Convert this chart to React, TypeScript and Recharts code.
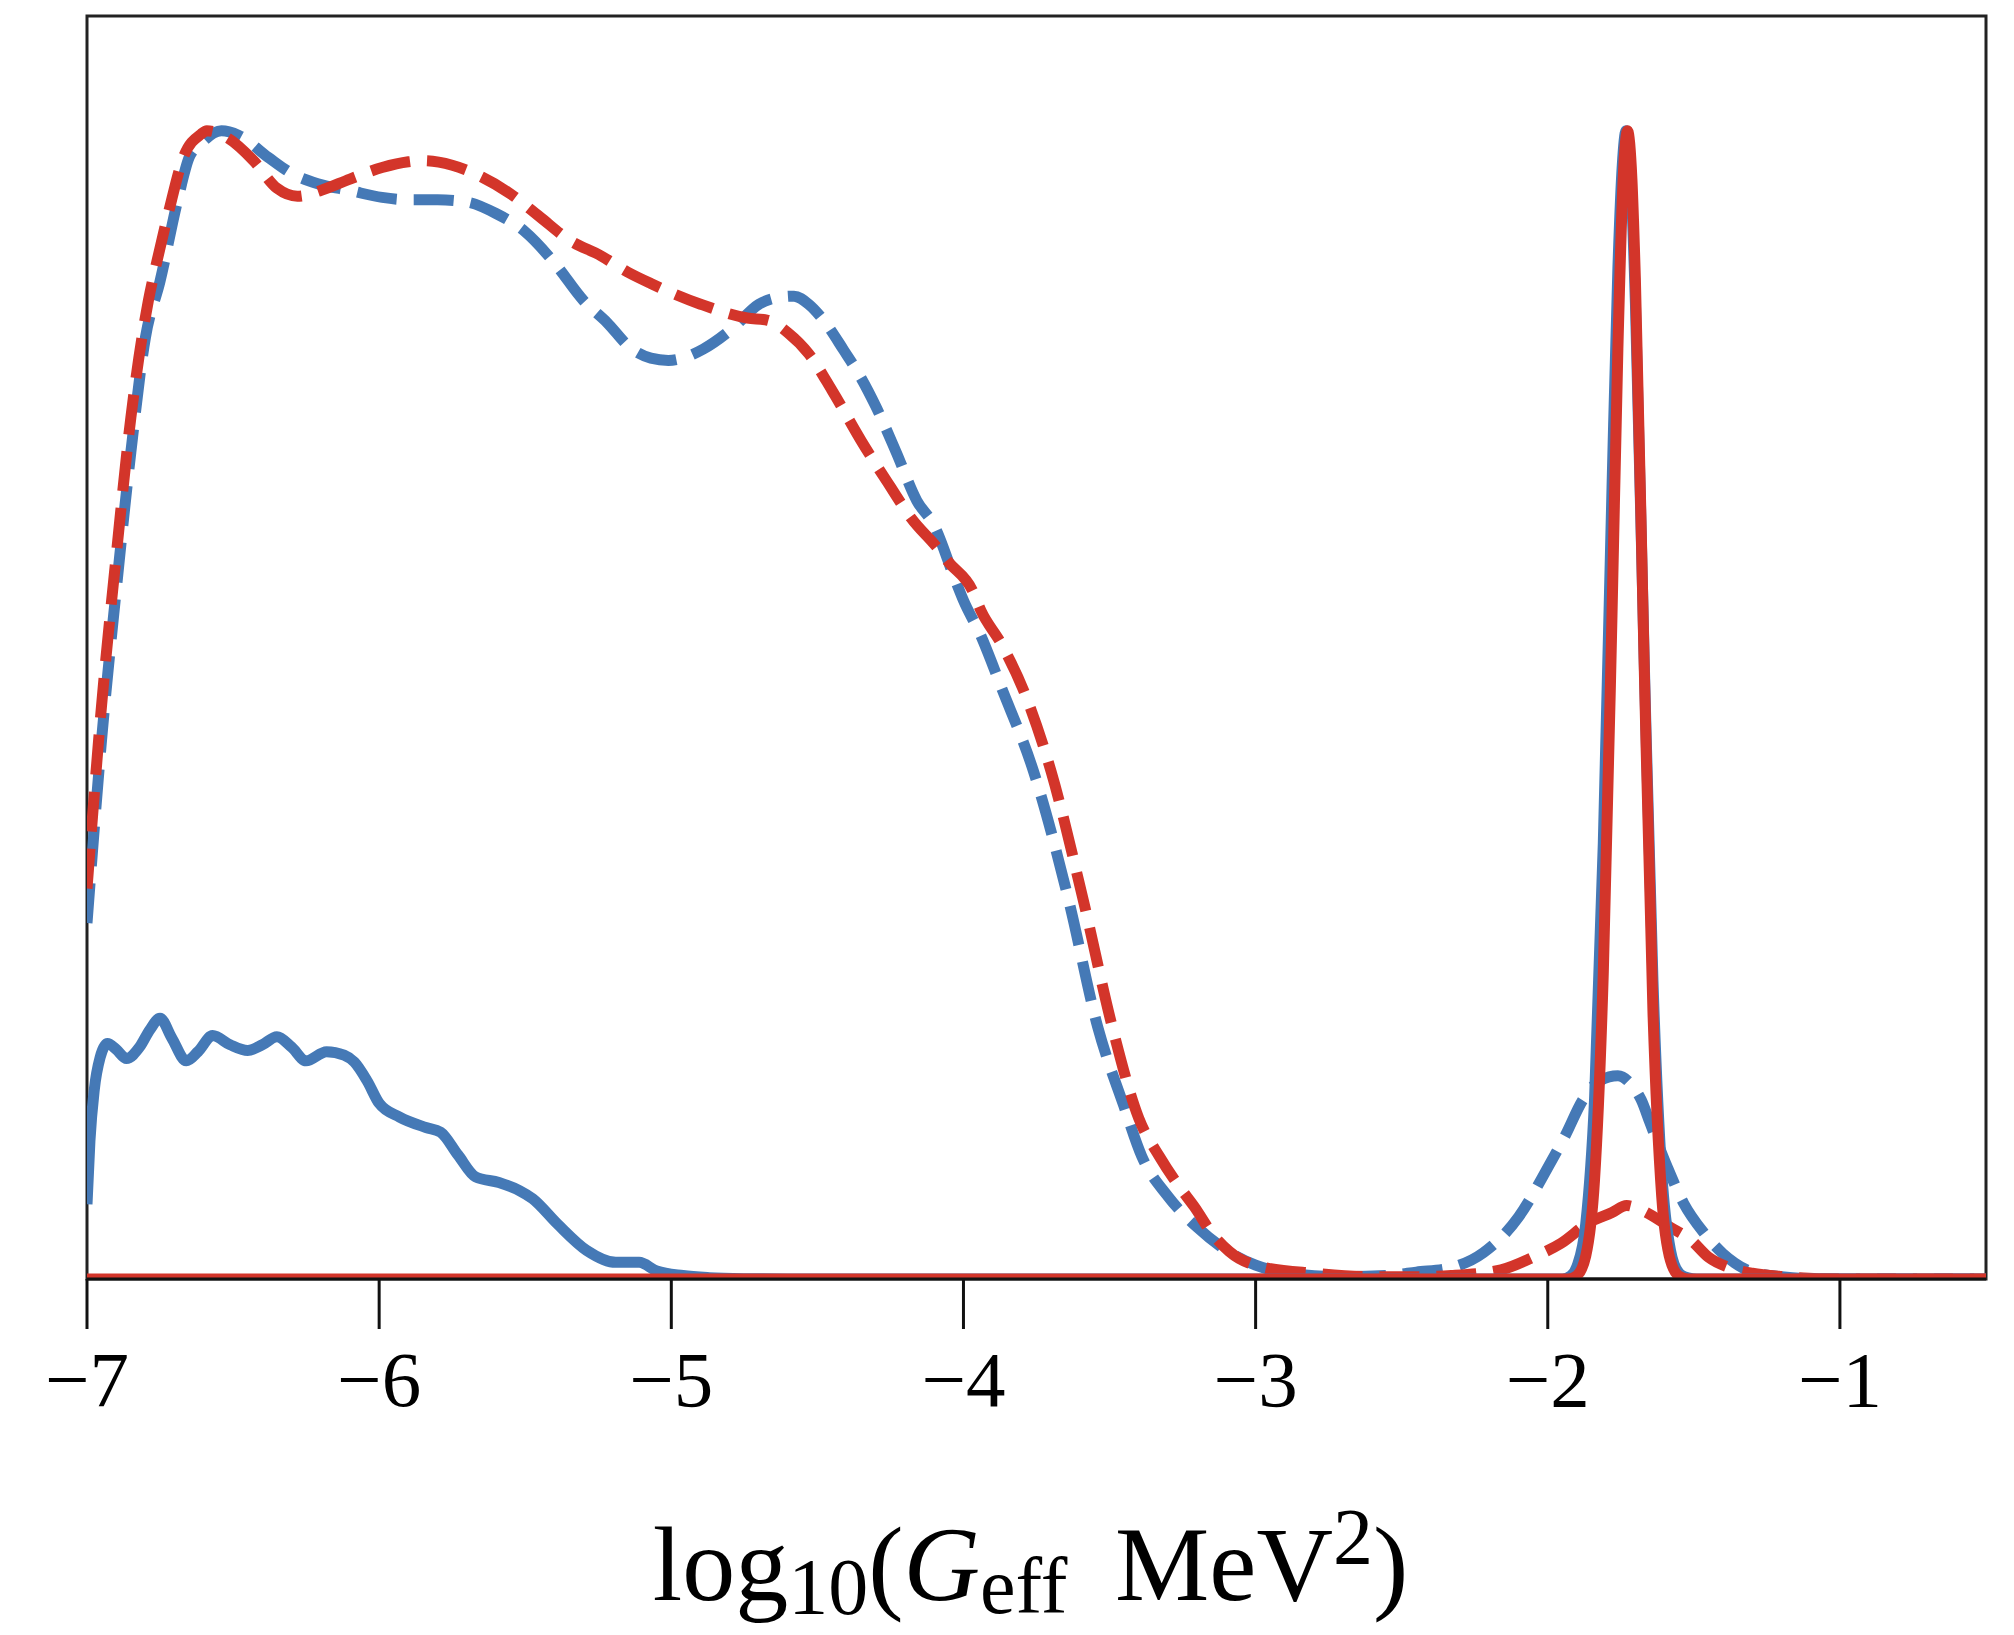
import React from "react";
import { LineChart, Line, XAxis, YAxis, ReferenceArea, Label } from "recharts";

// ---- data ----
const xTicks: number[] = [-7, -6, -5, -4, -3, -2, -1];
const xDomain: [number, number] = [-7, -0.5];
const yDomain: [number, number] = [0, 1.1];

const blueDashed: [number, number][] = [
  [-7.0, 0.31], [-6.95, 0.47], [-6.9, 0.6], [-6.85, 0.72], [-6.8, 0.82], [-6.75, 0.869],
  [-6.69, 0.939], [-6.65, 0.977], [-6.61, 0.989], [-6.54, 1.0], [-6.48, 0.996], [-6.38, 0.977],
  [-6.3, 0.963], [-6.21, 0.954], [-6.1, 0.948], [-5.99, 0.942], [-5.9, 0.94], [-5.8, 0.94],
  [-5.7, 0.938], [-5.6, 0.928], [-5.5, 0.912], [-5.4, 0.885], [-5.3, 0.852], [-5.22, 0.833],
  [-5.14, 0.811], [-5.07, 0.802], [-5.01, 0.8], [-4.95, 0.803], [-4.89, 0.81], [-4.79, 0.828],
  [-4.7, 0.849], [-4.63, 0.855], [-4.58, 0.856], [-4.53, 0.849], [-4.47, 0.832], [-4.41, 0.809],
  [-4.36, 0.789], [-4.3, 0.76], [-4.23, 0.72], [-4.16, 0.678], [-4.1, 0.656], [-4.03, 0.61],
  [-4.0, 0.591], [-3.94, 0.56], [-3.87, 0.515], [-3.76, 0.442], [-3.64, 0.33], [-3.54, 0.219],
  [-3.45, 0.15], [-3.39, 0.107], [-3.3, 0.072], [-3.2, 0.045], [-3.1, 0.025], [-3.0, 0.012],
  [-2.85, 0.004], [-2.7, 0.002], [-2.55, 0.003], [-2.45, 0.006], [-2.33, 0.01], [-2.22, 0.023],
  [-2.1, 0.054], [-2.0, 0.097], [-1.94, 0.125], [-1.88, 0.156], [-1.82, 0.173], [-1.76, 0.177],
  [-1.71, 0.168], [-1.68, 0.156], [-1.65, 0.136], [-1.59, 0.097], [-1.535, 0.066], [-1.465, 0.04],
  [-1.4, 0.022], [-1.36, 0.014], [-1.3, 0.006], [-1.2, 0.002], [-1.05, 0.0], [-0.5, 0.0],
];

const redDashed: [number, number][] = [
  [-7.0, 0.34], [-6.95, 0.5], [-6.9, 0.63], [-6.85, 0.75], [-6.79, 0.852], [-6.76, 0.887],
  [-6.72, 0.93], [-6.67, 0.977], [-6.61, 0.997], [-6.59, 1.0], [-6.52, 0.994], [-6.43, 0.974],
  [-6.35, 0.95], [-6.28, 0.943], [-6.2, 0.948], [-6.1, 0.958], [-5.99, 0.968], [-5.9, 0.973],
  [-5.85, 0.974], [-5.75, 0.97], [-5.65, 0.96], [-5.55, 0.945], [-5.45, 0.925], [-5.35, 0.905],
  [-5.24, 0.891], [-5.15, 0.877], [-5.07, 0.867], [-4.9, 0.849], [-4.74, 0.837], [-4.67, 0.835],
  [-4.6, 0.824], [-4.53, 0.806], [-4.45, 0.774], [-4.35, 0.73], [-4.25, 0.69], [-4.18, 0.663],
  [-4.09, 0.637], [-4.05, 0.624], [-3.97, 0.6], [-3.94, 0.582], [-3.87, 0.553], [-3.79, 0.51],
  [-3.7, 0.442], [-3.59, 0.33], [-3.49, 0.219], [-3.4, 0.14], [-3.33, 0.107], [-3.26, 0.08],
  [-3.21, 0.063], [-3.15, 0.04], [-3.09, 0.024], [-2.97, 0.01], [-2.8, 0.005], [-2.6, 0.002],
  [-2.45, 0.002], [-2.33, 0.003], [-2.16, 0.008], [-2.05, 0.019], [-1.955, 0.031], [-1.86, 0.049],
  [-1.78, 0.058], [-1.73, 0.064], [-1.68, 0.06], [-1.58, 0.045], [-1.51, 0.034], [-1.45, 0.019],
  [-1.38, 0.01], [-1.3, 0.005], [-1.19, 0.002], [-1.0, 0.0], [-0.5, 0.0],
];

const blueSolid: [number, number][] = [
  [-7.0, 0.065], [-6.99, 0.12], [-6.975, 0.165], [-6.955, 0.193], [-6.93, 0.205], [-6.9, 0.2],
  [-6.865, 0.192], [-6.82, 0.202], [-6.785, 0.217], [-6.75, 0.227], [-6.71, 0.21], [-6.66, 0.19],
  [-6.62, 0.198], [-6.57, 0.212], [-6.51, 0.204], [-6.45, 0.199], [-6.4, 0.204], [-6.35, 0.211],
  [-6.3, 0.202], [-6.25, 0.19], [-6.18, 0.198], [-6.12, 0.195], [-6.085, 0.189], [-6.04, 0.172],
  [-6.0, 0.153], [-5.93, 0.141], [-5.84, 0.132], [-5.79, 0.128], [-5.73, 0.108], [-5.67, 0.089],
  [-5.59, 0.084], [-5.52, 0.077], [-5.475, 0.07], [-5.39, 0.048], [-5.29, 0.025], [-5.19, 0.0145],
  [-5.11, 0.0145], [-5.05, 0.007], [-4.96, 0.003], [-4.87, 0.0012], [-4.75, 0.0003], [-4.6, 0.0],
  [-1.95, 0.0], [-1.92, 0.003], [-1.9, 0.011], [-1.87, 0.048], [-1.84, 0.156], [-1.81, 0.379],
  [-1.78, 0.69], [-1.76, 0.88], [-1.745, 0.97], [-1.732, 1.0], [-1.718, 0.97], [-1.7, 0.85],
  [-1.67, 0.54], [-1.64, 0.26], [-1.61, 0.093], [-1.58, 0.025], [-1.55, 0.005], [-1.52, 0.001],
  [-1.49, 0.0], [-0.5, 0.0],
];

const redSolid: [number, number][] = [
  [-7.0, 0.0], [-1.93, 0.0], [-1.9, 0.003], [-1.87, 0.02], [-1.84, 0.086], [-1.81, 0.266],
  [-1.78, 0.58], [-1.76, 0.81], [-1.742, 0.958], [-1.727, 1.0], [-1.712, 0.958], [-1.7, 0.87],
  [-1.67, 0.535], [-1.64, 0.233], [-1.61, 0.072], [-1.58, 0.016], [-1.55, 0.0024], [-1.52, 0.0],
  [-0.5, 0.0],
];

// ---- styles ----
const BLUE = "#4579b6";
const RED = "#d3352a";
const INK = "#111";
const SERIF = "'Liberation Serif', 'DejaVu Serif', serif";

const toRows = (pts: [number, number][]) => pts.map(([x, y]) => ({ x, y }));

const renderTick = (props: any) => {
  const { x, y, payload } = props;
  const v = payload.value as number;
  const txt = v < 0 ? `\u2212${Math.abs(v)}` : `${v}`;
  return (
    <text x={x} y={y + 75} textAnchor="middle" fontFamily={SERIF} fontSize={79} fill="#000">
      {txt}
    </text>
  );
};

const renderXLabel = (props: any) => {
  const vb = props.viewBox || { x: 0, y: 0, width: 0, height: 0 };
  const cx = vb.x + vb.width / 2 - 6;
  const y = vb.y + 321;
  return (
    <text x={cx} y={y} textAnchor="middle" fontFamily={SERIF} fontSize={106} fill="#000">
      <tspan>log</tspan>
      <tspan fontSize={80} dy={14}>10</tspan>
      <tspan dy={-14}>(</tspan>
      <tspan fontStyle="italic">G</tspan>
      <tspan fontSize={80} dy={13}>eff</tspan>
      <tspan dy={-13}>{"\u00A0\u2009MeV"}</tspan>
      <tspan fontSize={80} dy={-36}>2</tspan>
      <tspan dy={36}>)</tspan>
    </text>
  );
};

export default function App() {
  return (
    <div style={{ position: "fixed", left: 0, top: 0, width: 2014, height: 1635, background: "#fff" }}>
      <LineChart width={2014} height={1635} margin={{ top: 16, right: 28, left: 87, bottom: 0 }}>
        <XAxis
          type="number"
          dataKey="x"
          domain={xDomain}
          allowDataOverflow
          ticks={xTicks}
          interval={0}
          tickSize={50}
          height={356}
          axisLine={{ stroke: INK, strokeWidth: 3 }}
          tickLine={{ stroke: INK, strokeWidth: 3 }}
          tick={renderTick}
        >
          <Label content={renderXLabel} />
        </XAxis>
        <YAxis type="number" domain={yDomain} allowDataOverflow hide />
        <Line data={toRows(blueDashed)} dataKey="y" type="monotone" stroke={BLUE} strokeWidth={11}
          strokeDasharray="40 17" strokeLinecap="butt" dot={false} activeDot={false} isAnimationActive={false} />
        <Line data={toRows(redDashed)} dataKey="y" type="monotone" stroke={RED} strokeWidth={11}
          strokeDasharray="40 17" strokeLinecap="butt" dot={false} activeDot={false} isAnimationActive={false} />
        <Line data={toRows(blueSolid)} dataKey="y" type="monotone" stroke={BLUE} strokeWidth={11}
          strokeLinejoin="round" dot={false} activeDot={false} isAnimationActive={false} />
        <Line data={toRows(redSolid)} dataKey="y" type="monotone" stroke={RED} strokeWidth={11}
          strokeLinejoin="round" dot={false} activeDot={false} isAnimationActive={false} />
        <ReferenceArea x1={xDomain[0]} x2={xDomain[1]} y1={yDomain[0]} y2={yDomain[1]}
          fill="none" stroke="#222" strokeWidth={3} fillOpacity={0} ifOverflow="visible" />
      </LineChart>
    </div>
  );
}
